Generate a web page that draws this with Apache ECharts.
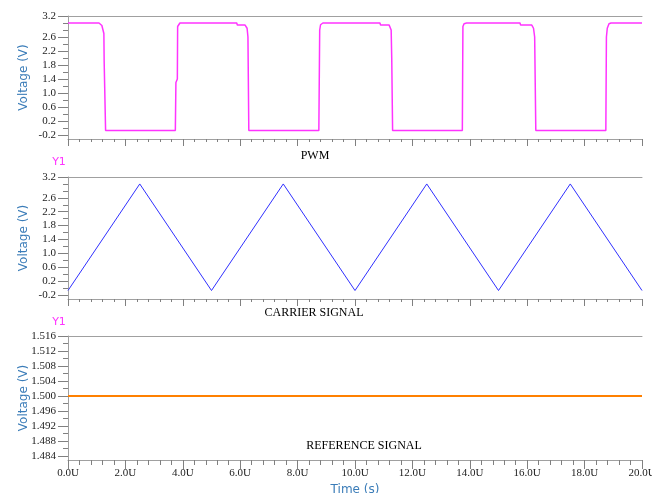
<!DOCTYPE html>
<html>
<head>
<meta charset="utf-8">
<script src="https://cdn.jsdelivr.net/npm/echarts@6/dist/echarts.min.js"></script>
<style>
  html, body { margin: 0; padding: 0; background: #fff; }
  #main { width: 652px; height: 493px; }
</style>
</head>
<body>
<div id="main"></div>
<script>
// time in microseconds, voltage in volts
const pwmPoints = [
  [0, 3.0], [1.08, 3.0], [1.18, 2.93], [1.25, 2.7], [1.26, 1.9], [1.29, 1.85], [1.31, -0.07],
  [3.74, -0.07], [3.76, 1.3], [3.81, 1.4], [3.82, 2.9], [3.9, 3.0],
  [5.88, 3.0], [5.9, 2.94], [6.17, 2.94], [6.24, 2.85], [6.27, 2.6], [6.3, -0.07],
  [8.74, -0.07], [8.77, 2.8], [8.8, 2.95], [8.88, 3.0],
  [10.87, 3.0], [10.89, 2.94], [11.19, 2.94], [11.26, 2.8], [11.28, 2.0], [11.3, 1.95], [11.31, -0.07],
  [13.74, -0.07], [13.76, 2.9], [13.8, 2.98], [13.89, 3.0],
  [15.75, 3.0], [15.77, 2.94], [16.16, 2.94], [16.22, 2.85], [16.26, 2.6], [16.3, -0.07],
  [18.74, -0.07], [18.76, 2.6], [18.79, 2.85], [18.85, 2.98], [18.92, 3.0], [20, 3.0]
];
const carrierPoints = [
  [0, -0.07], [2.5, 3.0], [5, -0.07], [7.5, 3.0], [10, -0.07],
  [12.5, 3.0], [15, -0.07], [17.5, 3.0], [20, -0.07]
];
const referencePoints = [[0, 1.5], [20, 1.5]];

const voltLabels = [-0.2, 0.2, 0.6, 1.0, 1.4, 1.8, 2.2, 2.6, 3.2];
const voltMinor = [-0.2, 0, 0.2, 0.4, 0.6, 0.8, 1.0, 1.2, 1.4, 1.6, 1.8, 2.0, 2.2, 2.4, 2.6, 2.8, 3.0, 3.2];
const refLabels = [1.484, 1.488, 1.492, 1.496, 1.5, 1.504, 1.508, 1.512, 1.516];
const refMinor = [1.484, 1.486, 1.488, 1.49, 1.492, 1.494, 1.496, 1.498, 1.5, 1.502, 1.504, 1.506, 1.508, 1.51, 1.512, 1.514, 1.516];
const panelTitles = ["PWM", "CARRIER SIGNAL", "REFERENCE SIGNAL"];

const chart = echarts.init(document.getElementById('main'));

const axisGray = "#a0a0a0";
const tickGray = "#808080";
const nameBlue = "#3a7cb8";
const labelFont = { fontFamily: "Liberation Serif", fontSize: 11, color: "#222" };

const grids = [
  { left: 68, right: 10, top: 16, height: 123, outerBoundsMode: "none" },
  { left: 68, right: 10, top: 177, height: 122, outerBoundsMode: "none" },
  { left: 68, right: 10, top: 336, height: 124, outerBoundsMode: "none" }
];

let xAxes = [];
let yAxes = [];
grids.forEach((g, i) => {
  let last = i === 2;
  // bottom time axis
  xAxes.push({
    type: "value", gridIndex: i, min: 0, max: 20, interval: 2, position: "bottom",
    axisLine: { onZero: false, lineStyle: { color: axisGray, width: 1 } },
    axisTick: { show: true, length: last ? 9 : 7, lineStyle: { color: tickGray } },
    minorTick: { show: true, splitNumber: 5, length: last ? 5 : 3, lineStyle: { color: tickGray } },
    splitLine: { show: false },
    axisLabel: last ? Object.assign({ margin: 8, formatter: v => v.toFixed(1) + "U" }, labelFont) : { show: false },
    name: last ? "Time (s)" : "",
    nameLocation: "middle", nameGap: 24, nameMoveOverlap: false,
    nameTextStyle: { color: nameBlue, fontFamily: "DejaVu Sans", fontSize: 12 }
  });
  // top border
  xAxes.push({
    type: "value", gridIndex: i, min: 0, max: 20, position: "top",
    axisLine: { onZero: false, lineStyle: { color: axisGray, width: 1 } },
    axisTick: { show: false }, axisLabel: { show: false }, splitLine: { show: false }
  });
  let isRef = i === 2;
  let labels = isRef ? refLabels : voltLabels;
  let minors = isRef ? refMinor : voltMinor;
  yAxes.push({
    type: "value", gridIndex: i, position: "left",
    min: isRef ? 1.4829 : -0.314, max: isRef ? 1.516 : 3.2,
    axisLine: { show: true, onZero: false, lineStyle: { color: axisGray, width: 1 } },
    axisTick: { show: true, length: 10, customValues: labels, lineStyle: { color: tickGray } },
    splitLine: { show: false },
    axisLabel: Object.assign({
      margin: 12, customValues: labels,
      formatter: v => isRef ? v.toFixed(3) : v.toFixed(1)
    }, labelFont),
    name: "Voltage (V)", nameLocation: "middle", nameRotate: 90, nameGap: 38, nameMoveOverlap: false,
    nameTextStyle: { color: nameBlue, fontFamily: "DejaVu Sans", fontSize: 12 }
  });
  // minor ticks
  yAxes.push({
    type: "value", gridIndex: i, position: "left",
    min: isRef ? 1.4829 : -0.314, max: isRef ? 1.516 : 3.2,
    axisLine: { show: false, onZero: false },
    axisTick: { show: true, length: 5, customValues: minors, lineStyle: { color: tickGray } },
    axisLabel: { show: false }, splitLine: { show: false }
  });
});

const option = {
  backgroundColor: "#fff",
  animation: false,
  grid: grids,
  xAxis: xAxes,
  yAxis: yAxes,
  graphic: [
    { type: "text", x: 315, y: 156, style: { text: panelTitles[0], align: "center", verticalAlign: "middle", font: '12px "Liberation Serif"', fill: "#000" } },
    { type: "text", x: 314, y: 313, style: { text: panelTitles[1], align: "center", verticalAlign: "middle", font: '12px "Liberation Serif"', fill: "#000" } },
    { type: "text", x: 364, y: 446, style: { text: panelTitles[2], align: "center", verticalAlign: "middle", font: '12px "Liberation Serif"', fill: "#000" } },
    { type: "text", x: 59, y: 162, style: { text: "Y1", align: "center", verticalAlign: "middle", font: '11px "DejaVu Sans"', fill: "#ff33ff" } },
    { type: "text", x: 59, y: 322, style: { text: "Y1", align: "center", verticalAlign: "middle", font: '11px "DejaVu Sans"', fill: "#ff33ff" } }
  ],
  series: [
    {
      name: "PWM", type: "line", xAxisIndex: 0, yAxisIndex: 0, data: pwmPoints,
      symbol: "none", lineStyle: { color: "#ff33ff", width: 1.5 }
    },
    {
      name: "CARRIER SIGNAL", type: "line", xAxisIndex: 2, yAxisIndex: 2, data: carrierPoints,
      symbol: "none", lineStyle: { color: "#3030ff", width: 1 }
    },
    {
      name: "REFERENCE SIGNAL", type: "line", xAxisIndex: 4, yAxisIndex: 4, data: referencePoints,
      symbol: "none", lineStyle: { color: "#ff8000", width: 2 }
    }
  ]
};
chart.setOption(option);
</script>
</body>
</html>
